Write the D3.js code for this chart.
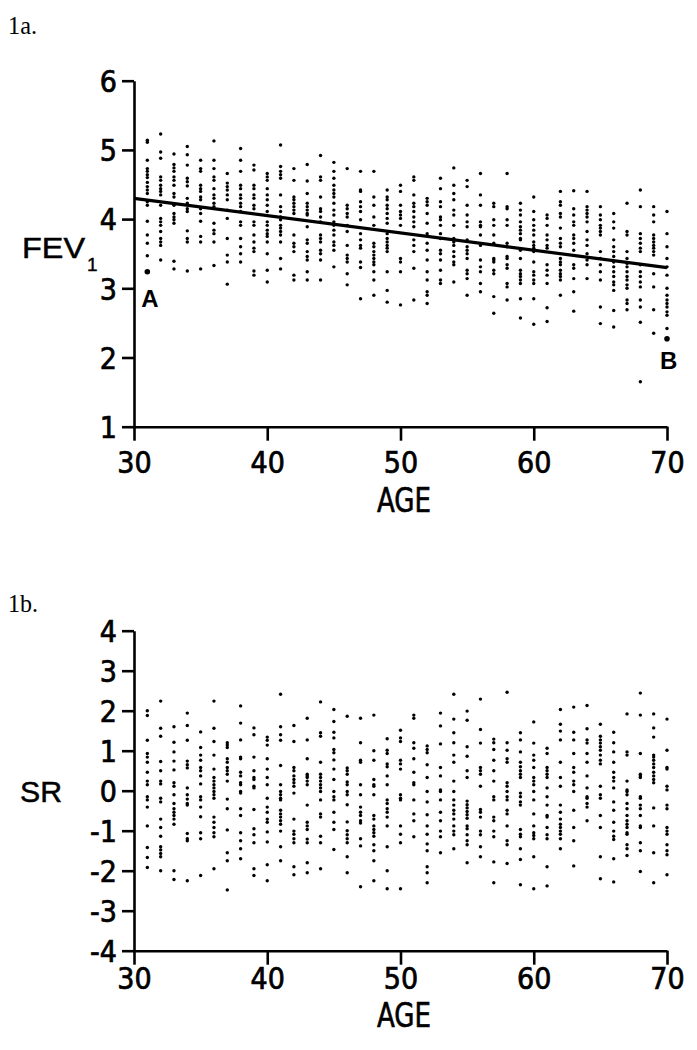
<!DOCTYPE html>
<html>
<head>
<meta charset="utf-8">
<script src="https://cdn.jsdelivr.net/npm/d3@7"></script>
<style>
  html, body { margin: 0; padding: 0; background: #fff; }
  svg { display: block; }
</style>
</head>
<body>
<svg id="chart" width="697" height="1050"></svg>
<script>
// ---------------- DATA ----------------
const ages = [31,32,33,34,35,36,37,38,39,40,41,42,43,44,45,46,47,48,49,50,
              51,52,53,54,55,56,57,58,59,60,61,62,63,64,65,66,67,68,69,70];

const fevTicks = [1,2,3,4,5,6];
const srTicks = [-4,-3,-2,-1,0,1,2,3,4];
const ageTicks = [30,40,50,60,70];

// FEV1 values per age (panel 1a)
const fevValues = [
  [5.14,5.11,4.85,4.73,4.69,4.64,4.60,4.53,4.47,4.42,4.37,4.25,4.20,3.97,3.77,3.65,3.47],
  [5.23,4.97,4.88,4.61,4.56,4.49,4.44,4.40,4.35,4.20,4.01,3.96,3.91,3.82,3.72,3.67,3.62,3.41],
  [4.94,4.79,4.74,4.69,4.61,4.56,4.49,4.37,4.32,4.20,4.08,4.03,3.99,3.94,3.39,3.28],
  [5.05,4.93,4.78,4.59,4.54,4.48,4.30,4.23,4.15,4.11,3.83,3.72,3.67,3.25],
  [4.85,4.73,4.69,4.49,4.44,4.40,4.32,4.28,4.15,4.08,3.97,3.75,3.67,3.28],
  [5.13,4.85,4.73,4.61,4.56,4.44,4.35,4.30,4.23,4.18,3.94,3.84,3.79,3.67,3.33],
  [4.66,4.52,4.47,4.42,4.35,4.28,4.13,4.01,3.72,3.48,3.38,3.06],
  [5.02,4.85,4.69,4.49,4.44,4.35,4.30,4.23,4.18,4.11,3.96,3.91,3.72,3.60,3.50,3.38],
  [4.78,4.71,4.49,4.44,4.35,4.30,4.20,4.15,3.96,3.91,3.77,3.67,3.58,3.53,3.25,3.19],
  [4.66,4.61,4.56,4.44,4.35,4.28,4.20,4.11,3.96,3.91,3.84,3.79,3.75,3.67,3.50,3.26,3.09],
  [5.07,4.76,4.69,4.64,4.59,4.35,4.18,4.11,4.03,3.99,3.91,3.87,3.82,3.77,3.67,3.43,3.28],
  [4.73,4.56,4.32,4.28,4.23,4.18,4.13,4.08,3.77,3.65,3.60,3.53,3.19,3.12],
  [4.79,4.55,4.37,4.23,4.18,4.13,4.08,4.06,3.89,3.70,3.65,3.53,3.46,3.41,3.24,3.12],
  [4.92,4.61,4.56,4.32,4.15,4.11,4.03,3.96,3.77,3.72,3.67,3.55,3.50,3.41,3.12],
  [4.82,4.69,4.59,4.49,4.42,4.37,4.32,4.23,4.13,4.06,3.96,3.91,3.84,3.77,3.67,3.62,3.55,3.31],
  [4.73,4.20,4.15,4.08,4.03,3.91,3.82,3.62,3.48,3.43,3.38,3.21,3.05],
  [4.69,4.42,4.40,4.25,4.18,4.11,3.99,3.79,3.70,3.62,3.58,3.38,3.30,2.85],
  [4.69,4.32,4.20,4.03,3.91,3.65,3.60,3.53,3.48,3.43,3.38,3.34,3.24,3.12,2.90],
  [4.42,4.32,4.28,4.20,4.15,4.08,4.01,3.94,3.79,3.72,3.67,3.62,3.58,3.53,3.24,2.97,2.80],
  [4.49,4.40,4.20,4.11,4.06,4.01,3.91,3.43,3.38,3.24,2.76],
  [4.61,4.56,4.35,4.23,4.18,4.11,4.03,3.96,3.89,3.70,3.62,3.53,3.29,2.83],
  [4.30,4.25,4.20,4.08,3.94,3.79,3.65,3.55,3.41,3.24,3.12,2.95,2.90,2.78],
  [4.59,4.44,4.25,4.18,4.03,3.99,3.91,3.79,3.72,3.55,3.50,3.41,3.26,3.12,3.07],
  [4.74,4.49,4.37,4.28,4.13,4.06,3.91,3.72,3.67,3.62,3.53,3.46,3.38,3.34,3.09],
  [4.56,4.47,4.20,4.06,3.96,3.89,3.70,3.60,3.55,3.50,3.43,3.26,3.21,3.14,2.90],
  [4.66,4.35,4.20,3.96,3.91,3.89,3.77,3.62,3.41,3.31,3.24,3.07,2.95],
  [4.23,4.18,3.99,3.91,3.77,3.65,3.43,3.41,3.38,3.26,3.21,2.88,2.64],
  [4.66,4.18,4.15,3.99,3.91,3.65,3.60,3.46,3.43,3.34,3.29,3.07,3.02,2.83],
  [4.23,4.13,4.06,3.96,3.89,3.84,3.79,3.72,3.70,3.55,3.43,3.26,3.21,3.17,3.12,3.07,2.85,2.57],
  [4.32,4.11,3.99,3.91,3.84,3.77,3.67,3.62,3.58,3.53,3.38,3.24,3.19,3.12,3.07,2.85,2.48],
  [4.06,4.01,3.91,3.77,3.70,3.62,3.58,3.34,3.26,3.19,3.07,2.72,2.52],
  [4.40,4.25,4.20,4.08,4.03,3.87,3.72,3.65,3.60,3.43,3.38,3.34,3.26,3.21,3.17,3.12,2.90],
  [4.41,4.15,4.06,3.96,3.91,3.77,3.72,3.65,3.55,3.34,3.29,3.14,2.95,2.67],
  [4.40,4.18,4.13,4.08,4.03,3.96,3.82,3.70,3.62,3.50,3.41,3.34,3.14],
  [4.18,4.06,3.99,3.91,3.87,3.82,3.77,3.53,3.43,3.34,3.24,3.12,2.73,2.49],
  [4.08,3.96,3.87,3.70,3.60,3.53,3.46,3.38,3.31,3.24,3.17,3.09,3.05,2.97,2.68,2.44],
  [4.23,3.82,3.77,3.53,3.43,3.36,3.31,3.24,3.17,3.12,3.05,3.00,2.83,2.78,2.69],
  [4.42,4.18,3.79,3.72,3.65,3.58,3.53,3.34,3.24,3.17,3.09,3.02,2.83,2.73,2.51,1.65],
  [4.18,4.06,3.96,3.77,3.72,3.67,3.62,3.58,3.53,3.48,3.21,3.02,2.69,2.35],
  [4.11,3.79,3.60,3.43,3.31,3.19,3.00,2.90,2.83,2.78,2.73,2.66,2.61,2.42]
];

// Marked subjects A and B
const markedLabels = ["A","B"];
const markedAges = [31,70];
const markedFev = [3.24,2.27];

// Fitted regression line (age, FEV1)
const lineAges = [30,70];
const lineFev = [4.30,3.30];

// Standardised residual (SR) values per age (panel 1b)
const srValues = [
  [2.00,1.88,1.26,0.93,0.84,0.71,0.46,0.24,0.15,-0.15,-0.23,-0.41,-0.88,-1.42,-1.67,-1.92],
  [2.24,1.56,1.36,0.73,0.50,0.24,0.17,-0.19,-0.28,-0.71,-0.92,-1.14,-1.40,-1.48,-1.57,-1.65,-2.00],
  [1.60,1.21,0.97,0.74,0.52,0.20,0.11,-0.10,-0.32,-0.45,-0.54,-0.62,-0.71,-0.84,-2.00,-2.22],
  [1.94,1.63,1.26,0.74,0.65,0.57,0.07,-0.10,-0.21,-0.32,-0.36,-1.07,-1.20,-1.25,-2.25],
  [1.47,1.08,0.89,0.76,0.58,0.50,0.37,0.17,-0.15,-0.23,-0.41,-0.65,-1.05,-1.20,-2.12],
  [2.24,1.56,1.23,0.89,0.54,0.33,0.24,0.15,0.07,-0.02,-0.10,-0.19,-0.66,-0.79,-0.92,-1.05,-1.15,-1.95],
  [1.20,1.14,1.08,0.80,0.71,0.58,0.50,0.41,0.24,-0.21,-0.45,-0.98,-1.55,-1.75,-2.48],
  [2.12,1.69,1.27,0.84,0.80,0.46,0.37,0.20,0.15,-0.02,-0.06,-0.45,-0.62,-1.05,-1.25,-1.45,-1.70],
  [1.57,1.40,0.84,0.50,0.33,0.28,0.11,0.07,-0.47,-0.95,-1.10,-1.30,-1.95,-2.12],
  [1.34,1.26,1.14,0.80,0.54,0.33,0.15,-0.19,-0.41,-0.54,-0.71,-0.79,-1.03,-1.28,-1.85,-2.25],
  [2.41,1.60,1.40,1.26,0.63,0.15,-0.02,-0.10,-0.19,-0.23,-0.49,-0.58,-0.66,-0.75,-0.84,-1.01,-1.40,-1.75],
  [1.63,1.23,0.58,0.50,0.37,0.28,0.20,0.11,-0.06,-0.71,-1.01,-1.09,-1.20,-1.30,-1.90,-2.10],
  [1.81,1.27,0.80,0.41,0.37,0.33,0.24,0.15,-0.36,-0.79,-0.88,-0.97,-1.21,-1.30,-1.80,-2.05],
  [2.22,1.45,1.36,0.71,0.41,0.33,0.24,0.15,0.07,-0.02,-0.23,-0.58,-0.66,-1.14,-1.30,-1.95],
  [2.03,1.73,1.46,1.32,1.03,0.95,0.77,0.54,0.28,-0.02,-0.15,-0.23,-0.54,-0.79,-0.97,-1.47],
  [1.86,0.57,0.50,0.41,0.22,0.15,-0.02,-0.10,-0.35,-0.78,-1.00,-1.10,-1.20,-1.30,-1.65,-2.05],
  [1.81,1.20,0.76,0.71,0.15,-0.10,-0.41,-0.54,-0.62,-0.75,-0.81,-1.20,-1.38,-2.40],
  [1.89,1.00,0.76,0.28,0.15,0.11,-0.10,-0.62,-0.71,-0.88,-0.97,-1.05,-1.14,-1.35,-1.50,-1.75,-2.25],
  [1.30,1.01,0.93,0.67,0.60,0.37,0.15,-0.23,-0.32,-0.45,-0.54,-0.66,-0.88,-1.40,-2.00,-2.45],
  [1.51,1.32,1.23,0.76,0.67,0.54,-0.10,-0.19,-0.23,-0.88,-1.09,-1.30,-2.45],
  [1.89,1.81,1.20,1.06,0.80,0.46,0.20,0.15,-0.23,-0.58,-0.75,-1.15],
  [1.12,1.03,0.95,0.65,0.33,-0.02,-0.28,-0.60,-0.88,-1.09,-1.33,-1.50,-1.90,-2.05,-2.30],
  [1.94,1.62,1.17,0.58,0.37,0.02,-0.02,-0.23,-0.54,-0.75,-1.01,-1.15,-1.55],
  [2.41,1.79,1.45,1.20,0.89,0.71,0.24,-0.02,-0.23,-0.36,-0.49,-0.58,-0.71,-0.88,-1.01,-1.10,-1.45],
  [1.99,1.76,1.10,0.86,0.50,0.33,-0.26,-0.35,-0.43,-0.52,-0.60,-0.69,-0.88,-0.95,-1.10,-1.25,-1.35,-1.80],
  [2.29,1.53,1.19,0.58,0.50,0.41,0.11,-0.47,-0.54,-0.66,-1.01,-1.10,-1.40,-1.65],
  [1.29,1.20,1.03,0.76,0.50,0.24,-0.15,-0.23,-0.66,-0.75,-1.01,-1.15,-1.78,-2.30],
  [2.46,1.20,1.01,0.80,0.71,0.20,0.11,-0.02,-0.15,-0.23,-0.49,-0.58,-0.88,-1.25,-1.35,-1.82],
  [1.45,1.27,0.97,0.71,0.60,0.50,0.41,0.33,-0.06,-0.15,-0.28,-0.36,-0.97,-1.09,-1.15,-1.45,-1.72,-2.35],
  [1.72,1.19,0.89,0.76,0.58,0.33,0.24,0.15,-0.02,-0.23,-0.58,-0.88,-1.05,-1.12,-1.20,-1.65,-2.45],
  [1.06,0.93,0.58,0.50,0.41,0.33,0.07,-0.15,-0.36,-0.62,-0.66,-0.92,-1.10,-1.20,-1.90,-2.38],
  [2.03,1.66,1.49,1.27,0.71,0.33,0.11,-0.36,-0.54,-0.71,-0.84,-0.92,-1.01,-1.09,-1.20,-1.45],
  [2.09,1.46,1.27,0.93,0.58,0.46,0.24,0.15,-0.02,-0.49,-0.92,-1.25,-1.88],
  [2.13,1.55,1.27,1.19,0.93,0.71,0.37,0.07,-0.15,-0.19,-0.32,-0.41,-0.75],
  [1.66,1.36,1.27,1.19,1.10,1.01,0.89,0.76,0.67,0.11,-0.10,-0.19,-0.62,-0.92,-1.65,-2.20],
  [1.46,1.20,0.97,0.71,0.46,0.33,0.24,0.07,-0.28,-0.49,-0.79,-1.01,-1.14,-1.22,-1.70,-2.28],
  [1.92,0.97,0.89,0.24,0.02,-0.02,-0.10,-0.32,-0.45,-0.62,-0.75,-0.84,-0.92,-1.05,-1.09,-1.35,-1.45,-1.62],
  [2.44,1.89,0.93,0.41,0.37,0.33,-0.15,-0.19,-0.36,-0.45,-0.62,-0.88,-0.92,-1.30,-1.50,-2.02],
  [1.92,1.57,1.34,0.89,0.84,0.76,0.67,0.58,0.46,0.37,0.28,0.20,-0.43,-0.88,-1.55,-2.30],
  [1.79,1.01,0.58,0.54,0.11,0.02,-0.36,-0.45,-0.92,-1.01,-1.09,-1.35,-1.50,-1.60,-2.10]
];

// ---------------- DRAWING ----------------
const svg = d3.select("#chart");
const numFont = "'Liberation Sans Narrow','Arial Narrow','DejaVu Sans Condensed',sans-serif";
const labFont = "'Liberation Sans','Arial',sans-serif";
const capFont = "'Liberation Serif','Times New Roman',serif";

// Figure captions
svg.append("text").attr("x", 8).attr("y", 34)
  .attr("font-family", capFont).attr("font-size", 25).attr("fill", "#000")
  .attr("textLength", 29).attr("lengthAdjust", "spacingAndGlyphs").text("1a.");
svg.append("text").attr("x", 8).attr("y", 612)
  .attr("font-family", capFont).attr("font-size", 25).attr("fill", "#000")
  .attr("textLength", 30).attr("lengthAdjust", "spacingAndGlyphs").text("1b.");

const x = d3.scaleLinear().domain([30, 70]).range([134, 667]);
const yTop = d3.scaleLinear().domain([1, 6]).range([426.7, 80.7]);
const yBot = d3.scaleLinear().domain([-4, 4]).range([950.7, 630.7]);

function styleAxis(g) {
  g.selectAll("path, line").attr("stroke", "#000").attr("stroke-width", 2.6);
  g.selectAll("text").attr("font-family", numFont).attr("font-size", 30)
    .attr("fill", "#000").attr("stroke", "#000").attr("stroke-width", 0.7);
}

function drawPanel(yScale, yTickVals, axisY, labelPad) {
  // x axis
  const gx = svg.append("g").attr("transform", `translate(0,${axisY})`)
    .call(d3.axisBottom(x).tickValues(ageTicks).tickSize(14).tickSizeOuter(0).tickPadding(labelPad));
  styleAxis(gx);
  // y axis
  const gy = svg.append("g").attr("transform", `translate(${x(30)},0)`)
    .call(d3.axisLeft(yScale).tickValues(yTickVals).tickSize(12).tickSizeOuter(0).tickPadding(5)
      .tickFormat(d => d < 0 ? "-" + Math.abs(d) : String(d)));
  styleAxis(gy);
  gy.selectAll("text").attr("dy", "0.36em");
}

function ageTitle(baselineY) {
  svg.append("text").attr("x", 377).attr("y", baselineY)
    .attr("font-family", numFont).attr("font-size", 33).attr("fill", "#000")
    .attr("stroke", "#000").attr("stroke-width", 0.6)
    .attr("textLength", 54).attr("lengthAdjust", "spacingAndGlyphs").text("AGE");
}

// ----- Panel 1a -----
drawPanel(yTop, fevTicks, yTop(1), 11);

const fevPts = [];
ages.forEach((a, i) => fevValues[i].forEach(v => fevPts.push({ age: a, v })));
svg.append("g").selectAll("circle").data(fevPts).join("circle")
  .attr("cx", d => x(d.age)).attr("cy", d => yTop(d.v)).attr("r", 1.7).attr("fill", "#000");

// regression line
svg.append("line")
  .attr("x1", x(lineAges[0])).attr("y1", yTop(lineFev[0]))
  .attr("x2", x(lineAges[1])).attr("y2", yTop(lineFev[1]))
  .attr("stroke", "#000").attr("stroke-width", 3.2);

// marked points A,B
markedLabels.forEach((lab, i) => {
  svg.append("circle").attr("cx", x(markedAges[i])).attr("cy", yTop(markedFev[i]))
    .attr("r", 2.8).attr("fill", "#000");
});
svg.append("text").attr("x", x(markedAges[0]) - 6).attr("y", yTop(markedFev[0]) + 35)
  .attr("font-family", labFont).attr("font-weight", "bold").attr("font-size", 24)
  .attr("fill", "#000").text(markedLabels[0]);
svg.append("text").attr("x", x(markedAges[1]) - 7).attr("y", yTop(markedFev[1]) + 30)
  .attr("font-family", labFont).attr("font-weight", "bold").attr("font-size", 24)
  .attr("fill", "#000").text(markedLabels[1]);

// axis titles
svg.append("text").attr("x", 22).attr("y", 258)
  .attr("font-family", labFont).attr("font-size", 29).attr("fill", "#000")
  .attr("stroke", "#000").attr("stroke-width", 0.5)
  .attr("textLength", 63).attr("lengthAdjust", "spacingAndGlyphs").text("FEV");
svg.append("text").attr("x", 87).attr("y", 271)
  .attr("font-family", labFont).attr("font-size", 19).attr("fill", "#000")
  .attr("stroke", "#000").attr("stroke-width", 0.4).text("1");

ageTitle(yTop(1) + 85);

// ----- Panel 1b -----
drawPanel(yBot, srTicks, yBot(-4), 3);

const srPts = [];
ages.forEach((a, i) => srValues[i].forEach(v => srPts.push({ age: a, v })));
svg.append("g").selectAll("circle").data(srPts).join("circle")
  .attr("cx", d => x(d.age)).attr("cy", d => yBot(d.v)).attr("r", 1.7).attr("fill", "#000");

svg.append("text").attr("x", 20).attr("y", yBot(0) + 11)
  .attr("font-family", labFont).attr("font-size", 29).attr("fill", "#000")
  .attr("stroke", "#000").attr("stroke-width", 0.5)
  .attr("textLength", 42).attr("lengthAdjust", "spacingAndGlyphs").text("SR");

ageTitle(yBot(-4) + 76);
</script>
</body>
</html>
